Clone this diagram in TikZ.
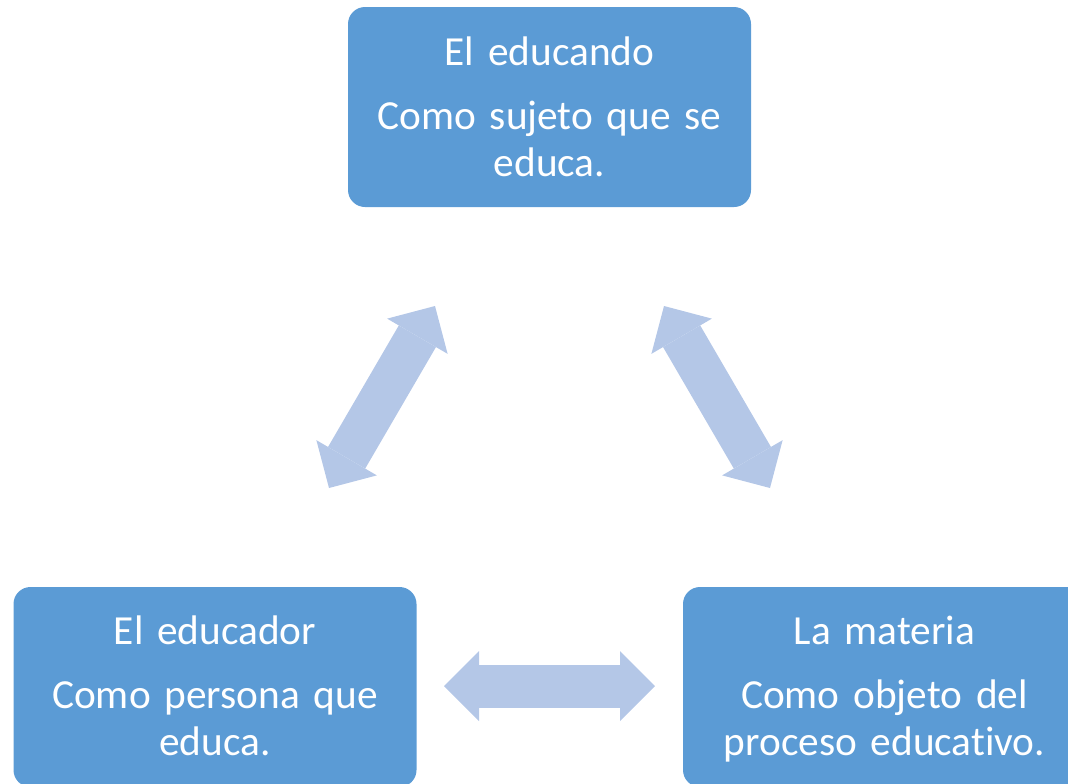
\documentclass[tikz,border=0pt]{standalone}
\usepackage{fontspec}
\setmainfont{Carlito}[Ligatures=CommonOff,WordSpace=0.85]
\usetikzlibrary{arrows.meta,calc}
\definecolor{boxblue}{HTML}{5B9BD5}
\definecolor{arrowblue}{HTML}{B4C7E7}
\begin{document}
\begin{tikzpicture}[x=0.75pt,y=-0.75pt,
  box/.style={fill=boxblue, draw=none, rounded corners=12.75pt, minimum width=302.25pt, minimum height=150pt, inner sep=0pt},
  txt/.style={text=white, font=\fontsize{31pt}{35.8pt}\selectfont, align=center, text width=300pt, anchor=base, inner sep=0pt},
  bigarrow/.style={draw=arrowblue, line width=32.25pt, {Triangle[length=26.25pt,width=52.5pt,line width=0pt]}-{Triangle[length=26.25pt,width=52.5pt,line width=0pt]}}
]
\useasboundingbox (0,0) rectangle (1068,783);
\clip (0,0) rectangle (1068,783);

\node[box] (educando) at (549.5,107) {};
\node[box] (educador) at (215,687) {};
\node[box] (materia) at (884.5,687) {};

\node[txt] (t1) at ($(educando.north)+(0,59)$) {El educando\\[11.7pt]Como sujeto que se\\educa.};
\node[txt] (t2) at ($(educador.north)+(0,58)$) {El educador\\[11.7pt]Como persona que\\educa.};
\node[txt] (t3) at ($(materia.north)+(0,58)$) {La materia\\[11.7pt]Como objeto del\\proceso educativo.};

\coordinate (al1) at (329,488);
\coordinate (al2) at (435,306);
\coordinate (ar1) at (664,306);
\coordinate (ar2) at (770,488);
\coordinate (ah1) at (444,686);
\coordinate (ah2) at (655,686);

\draw[bigarrow] (al1) -- (al2);
\draw[bigarrow] (ar1) -- (ar2);
\draw[bigarrow] (ah1) -- (ah2);
\end{tikzpicture}
\end{document}
